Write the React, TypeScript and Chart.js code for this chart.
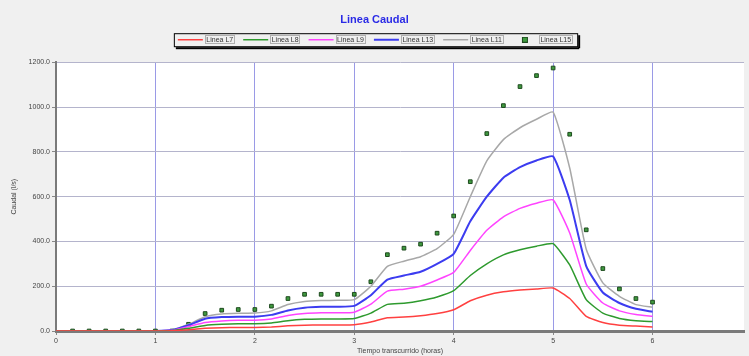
import React, { useEffect, useRef } from "react";
import { Chart, registerables } from "chart.js";

Chart.register(...registerables);

const times = [0, 0.167, 0.333, 0.5, 0.667, 0.833, 1.0, 1.167, 1.333, 1.5, 1.667, 1.833, 2.0, 2.167, 2.333, 2.5, 2.667, 2.833, 3.0, 3.167, 3.333, 3.5, 3.667, 3.833, 4.0, 4.167, 4.333, 4.5, 4.667, 4.833, 5.0, 5.167, 5.333, 5.5, 5.667, 5.833, 6.0];

const seriesNames = ["Linea L7", "Linea L8", "Linea L9", "Linea L13", "Linea L11", "Linea L15"];

const lineL7 = [0, 0, 0, 0, 0, 0, 0, 1, 6, 12, 15, 16, 16, 18, 23, 26, 27, 27, 28, 40, 59, 62, 68, 78, 95, 135, 160, 175, 183, 188, 192, 145, 65, 38, 26, 22, 18];
const lineL8 = [0, 0, 0, 0, 0, 0, 0, 2, 12, 25, 30, 32, 32, 36, 46, 52, 54, 54, 56, 80, 119, 124, 135, 152, 180, 248, 300, 340, 363, 379, 390, 295, 140, 80, 56, 46, 42];
const lineL9 = [0, 0, 0, 0, 0, 0, 0, 3, 20, 38, 45, 48, 48, 54, 69, 78, 81, 81, 84, 120, 178, 187, 200, 228, 262, 360, 450, 510, 548, 571, 586, 438, 210, 125, 90, 74, 66];
const lineL13 = [0, 0, 0, 0, 0, 0, 0, 4, 26, 55, 62, 64, 64, 72, 92, 104, 108, 108, 112, 160, 230, 248, 265, 300, 345, 490, 600, 685, 732, 762, 780, 585, 290, 172, 125, 99, 86];
const lineL11 = [0, 0, 0, 0, 0, 0, 0, 5, 30, 64, 76, 79, 80, 90, 118, 132, 136, 137, 140, 200, 289, 312, 332, 368, 432, 600, 760, 855, 908, 946, 978, 728, 365, 215, 155, 118, 106];
const pointsL15 = [null, 0, 0, 0, 0, 0, 0, 0, 30, 78, 93, 96, 96, 111, 145, 164, 164, 164, 164, 220, 341, 370, 388, 437, 514, 667, 882, 1007, 1092, 1141, 1175, 879, 452, 279, 188, 145, 129];

const yTicks = [0, 200, 400, 600, 800, 1000, 1200];
const xTicks = [0, 1, 2, 3, 4, 5, 6];

const lineColors = ["#ff4040", "#2e9a2e", "#ff44ff", "#3c3cf0", "#a8a8a8"];
const dotFill = "#3f9a3f";
const dotBorder = "#1e4a1e";
const FONT = "'Liberation Sans', Arial, sans-serif";
const SWATCH = 25;

function toXY(vals: (number | null)[]) {
  return vals.map((v, i) => ({ x: times[i], y: v }));
}

function makeSquareIcon() {
  const c = document.createElement("canvas");
  c.width = SWATCH;
  c.height = 6;
  const g = c.getContext("2d")!;
  const x0 = Math.round(SWATCH / 2) - 3;
  g.fillStyle = dotFill;
  g.fillRect(x0, 0, 6, 6);
  g.strokeStyle = dotBorder;
  g.lineWidth = 1;
  g.strokeRect(x0 + 0.5, 0.5, 5, 5);
  return c;
}

const bgPlugin = {
  id: "bgPlugin",
  beforeDraw(chart: any) {
    const { ctx, chartArea } = chart;
    ctx.save();
    ctx.fillStyle = "#f0f0f0";
    ctx.fillRect(0, 0, chart.width, chart.height);
    ctx.fillStyle = "#ffffff";
    ctx.fillRect(chartArea.left, chartArea.top, chartArea.right - chartArea.left, chartArea.bottom - chartArea.top);
    ctx.restore();
  },
  afterDraw(chart: any) {
    const lg = chart.legend;
    if (!lg || !lg.legendHitBoxes || !lg.legendHitBoxes.length) return;
    const boxes = lg.legendHitBoxes;
    const ctx = chart.ctx;
    let l = Infinity, r = -Infinity, t = Infinity, b = -Infinity;
    boxes.forEach((h: any) => {
      l = Math.min(l, h.left); r = Math.max(r, h.left + h.width);
      t = Math.min(t, h.top); b = Math.max(b, h.top + h.height);
    });
    l -= 4; r += 6; t -= 3; b += 3;
    ctx.save();
    ctx.strokeStyle = "#000";
    ctx.lineWidth = 1;
    ctx.strokeRect(l + 0.5, t + 0.5, r - l, b - t);
    ctx.fillStyle = "#000";
    ctx.fillRect(l + 2, b + 1, r - l, 2);
    ctx.fillRect(r + 1, t + 2, 2, b - t);
    ctx.strokeStyle = "#b0b0b0";
    boxes.forEach((h: any) => {
      const tx = h.left + SWATCH + 4;
      ctx.strokeRect(Math.round(tx) - 1.5, Math.round(h.top) - 0.5, Math.round(h.left + h.width - tx) + 3, Math.round(h.height) + 1);
    });
    ctx.restore();
  },
};

export default function App() {
  const ref = useRef<HTMLCanvasElement>(null);
  useEffect(() => {
    if (!ref.current) return;
    const squareIcon = makeSquareIcon();
    const lineSets = [lineL7, lineL8, lineL9, lineL13, lineL11].map((vals, i) => ({
      type: "line" as const,
      label: seriesNames[i],
      data: toXY(vals),
      borderColor: lineColors[i],
      backgroundColor: lineColors[i],
      borderWidth: i === 3 ? 2 : 1.5,
      pointRadius: 0,
      tension: 0.15,
      pointStyle: "line",
    }));
    const chart = new Chart(ref.current, {
      type: "line",
      data: {
        datasets: [
          ...lineSets,
          {
            type: "line" as const,
            label: seriesNames[5],
            data: toXY(pointsL15),
            showLine: false,
            borderColor: dotBorder,
            backgroundColor: dotFill,
            pointStyle: "rect",
            pointRadius: 2.6,
            pointBorderWidth: 1,
          },
        ] as any,
      },
      options: {
        animation: false,
        responsive: false,
        maintainAspectRatio: false,
        layout: { padding: 0 },
        plugins: {
          title: {
            display: true,
            text: "Linea Caudal",
            color: "#2a2ae6",
            font: { family: FONT, size: 11, weight: "bold" },
            padding: { top: 13, bottom: 0 },
          },
          subtitle: {
            display: true,
            text: "",
            weight: 500,
            font: { family: FONT, size: 1 },
            padding: { top: 8, bottom: 0 },
          } as any,
          legend: {
            display: true,
            labels: {
              usePointStyle: true,
              pointStyleWidth: SWATCH,
              color: "#333",
              font: { family: FONT, size: 7 },
              padding: 10,
              boxHeight: 7,
              generateLabels(ch: any) {
                const items = Chart.defaults.plugins.legend.labels.generateLabels(ch);
                items.forEach((it: any, idx: number) => {
                  if (idx === 5) it.pointStyle = squareIcon;
                });
                return items;
              },
            },
          },
          tooltip: { enabled: false },
        },
        scales: {
          x: {
            type: "linear",
            min: 0,
            max: 6.92,
            afterBuildTicks(scale: any) {
              scale.ticks = xTicks.map((v) => ({ value: v }));
            },
            afterFit(scale: any) {
              scale.height = 25;
            },
            ticks: {
              color: "#444",
              font: { family: FONT, size: 7 },
              padding: 2,
              callback: (v: any) => String(v),
            },
            grid: { color: "#9a9ae6", lineWidth: 1, tickLength: 4, tickColor: "#888" },
            border: { color: "#7a7a7a", width: 3 },
            title: {
              display: true,
              text: "Tiempo transcurrido (horas)",
              color: "#444",
              font: { family: FONT, size: 7 },
              padding: { top: 0, bottom: 1 },
            },
          },
          y: {
            type: "linear",
            min: 0,
            max: 1200,
            afterBuildTicks(scale: any) {
              scale.ticks = yTicks.map((v) => ({ value: v }));
            },
            afterFit(scale: any) {
              scale.width = 56;
            },
            ticks: {
              color: "#444",
              font: { family: FONT, size: 7 },
              padding: 2,
              callback: (v: any) => Number(v).toFixed(1),
            },
            grid: { color: "#b4b4cc", lineWidth: 1, tickLength: 4, tickColor: "#888" },
            border: { color: "#7a7a7a", width: 2 },
            title: {
              display: true,
              text: "Caudal (l/s)",
              color: "#444",
              font: { family: FONT, size: 7 },
              padding: { top: 10, bottom: 0 },
            },
          },
        },
      },
      plugins: [bgPlugin],
    });
    return () => chart.destroy();
  }, []);
  return (
    <div style={{ position: "fixed", left: 0, top: 0, width: 749, height: 356, background: "#f0f0f0" }}>
      <canvas ref={ref} width={749} height={356} style={{ width: 749, height: 356, display: "block" }} />
    </div>
  );
}
